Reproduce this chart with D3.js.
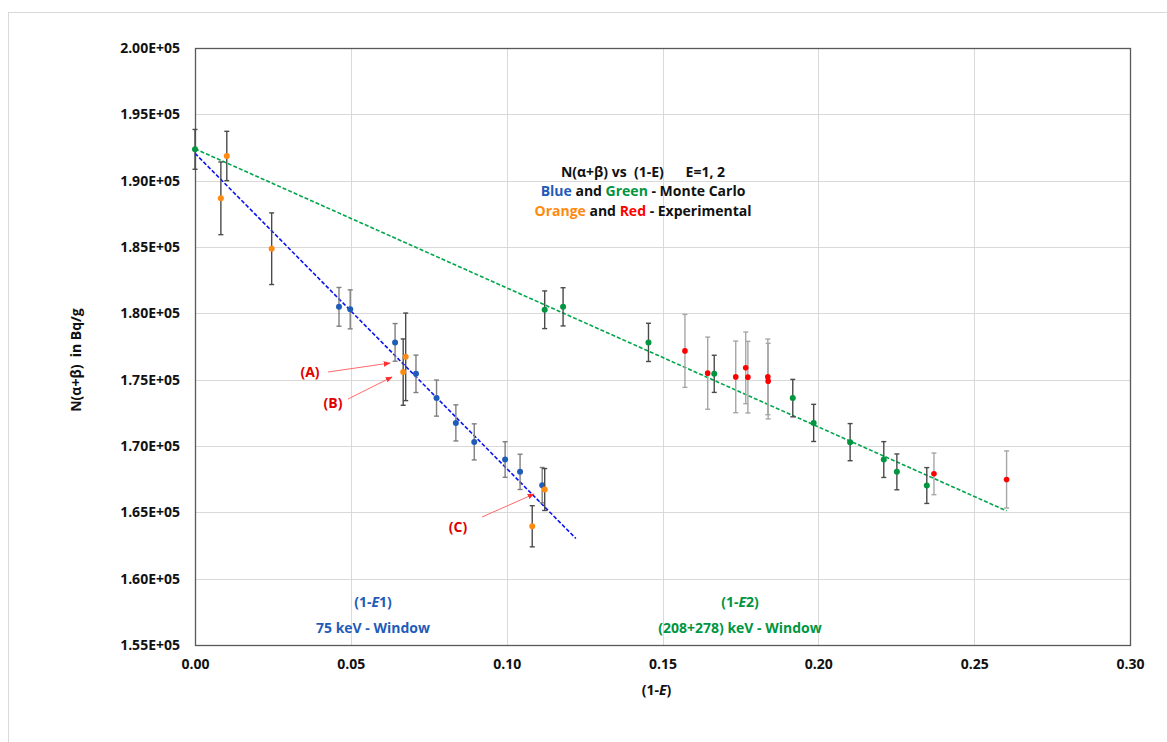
<!DOCTYPE html>
<html>
<head>
<meta charset="utf-8">
<script src="https://cdn.jsdelivr.net/npm/d3@7"></script>
<style>
  body { margin: 0; background: #fff; }
  svg text { font-family: "Open Sans", "Liberation Sans", sans-serif; font-weight: 700; white-space: pre; }
</style>
</head>
<body>
<div id="chart"></div>
<script>
// N(a+b) vs (1-E) — Monte Carlo (blue/green) and experimental (orange/red)

const xTicks = [0, 0.05, 0.10, 0.15, 0.20, 0.25, 0.30];
const yTicks = [155000, 160000, 165000, 170000, 175000, 180000, 185000, 190000, 195000, 200000];

// Monte Carlo, 75 keV window (1-E1)
const blueX   = [0.0462, 0.0498, 0.0642, 0.0709, 0.0775, 0.0837, 0.0896, 0.0995, 0.1043, 0.1114];
const blueY   = [180490, 180300, 177810, 175440, 173610, 171740, 170310, 168980, 168050, 167050];
const blueErr = [1460, 1470, 1420, 1410, 1360, 1360, 1360, 1340, 1330, 1330];

// Monte Carlo, (208+278) keV window (1-E2)
const greenX   = [0, 0.1122, 0.1181, 0.1455, 0.1666, 0.1918, 0.1985, 0.2102, 0.2210, 0.2252, 0.2348];
const greenY   = [192360, 180270, 180490, 177810, 175440, 173610, 171740, 170290, 168980, 168050, 167020];
const greenErr = [1500, 1420, 1440, 1440, 1400, 1410, 1400, 1400, 1350, 1350, 1350];

// Experimental, E1
const orangeX   = [0.0083, 0.0102, 0.0246, 0.0676, 0.0668, 0.1082, 0.1122];
const orangeY   = [188670, 191860, 184870, 176720, 175570, 163950, 166720];
const orangeErr = [2740, 1860, 2700, 3300, 2500, 1550, 1580];

// Experimental, E2
const redX   = [0.1572, 0.1645, 0.1735, 0.1767, 0.1774, 0.1838, 0.1839, 0.2371, 0.2604];
const redY   = [177170, 175490, 175210, 175890, 175190, 175210, 174890, 167900, 167480];
const redErr = [2750, 2720, 2700, 2700, 2700, 2850, 2850, 1570, 2150];

// linear fits (end points)
const blueFitX  = [0, 0.1222];
const blueFitY  = [192060, 163030];
const greenFitX = [0, 0.2604];
const greenFitY = [192400, 165110];

const width = 1167, height = 742;
const margin = { top: 48, right: 37, bottom: 97, left: 195 };
const plot_width  = width - margin.left - margin.right;
const plot_height = height - margin.top - margin.bottom;

const svg = d3.select("#chart").append("svg")
  .attr("width", width).attr("height", height);

// outer frame
svg.append("rect")
  .attr("x", 8.5).attr("y", 12.5)
  .attr("width", width).attr("height", height)
  .attr("fill", "none").attr("stroke", "#d9d9d9");

const plot = svg.append("g")
  .attr("transform", `translate(${margin.left},${margin.top})`);

const x = d3.scaleLinear().domain([0, 0.30]).range([0, plot_width]);
const y = d3.scaleLinear().domain([155000, 200000]).range([plot_height, 0]);

// ── gridlines ──────────────────────────────────────────────
plot.append("g").selectAll("line").data(yTicks).join("line")
  .attr("x1", 0).attr("x2", plot_width)
  .attr("y1", d => Math.round(y(d)) + 0.5).attr("y2", d => Math.round(y(d)) + 0.5)
  .attr("stroke", "#d9d9d9");
plot.append("g").selectAll("line").data(xTicks).join("line")
  .attr("x1", d => Math.round(x(d)) + 0.5).attr("x2", d => Math.round(x(d)) + 0.5)
  .attr("y1", 0).attr("y2", plot_height)
  .attr("stroke", "#d9d9d9");

// ── axes ───────────────────────────────────────────────────
const yAxis = plot.append("g")
  .call(d3.axisLeft(y).tickValues(yTicks).tickSize(0).tickPadding(15)
    .tickFormat(d => (d / 1e5).toFixed(2) + "E+05"));
yAxis.select(".domain").remove();
yAxis.selectAll("text").style("font-size", "14px").attr("fill", "#111");

const xAxis = plot.append("g")
  .attr("transform", `translate(0,${plot_height})`)
  .call(d3.axisBottom(x).tickValues(xTicks).tickSize(0).tickPadding(14)
    .tickFormat(d3.format(".2f")));
xAxis.select(".domain").remove();
xAxis.selectAll("text").style("font-size", "14px").attr("fill", "#111");

// plot border
plot.append("rect")
  .attr("x", 0.5).attr("y", 0.5)
  .attr("width", plot_width).attr("height", plot_height)
  .attr("fill", "none").attr("stroke", "#595959").attr("stroke-width", 1.3);

// axis titles
const xTitle = svg.append("text")
  .attr("x", margin.left + plot_width / 2 - 6).attr("y", 695)
  .attr("text-anchor", "middle").style("font-size", "14px").attr("fill", "#111");
xTitle.append("tspan").text("(1-");
xTitle.append("tspan").style("font-style", "italic").text("E");
xTitle.append("tspan").text(")");

svg.append("text")
  .attr("transform", `translate(81,${margin.top + 312}) rotate(-90)`)
  .attr("text-anchor", "middle").style("font-size", "14px").attr("fill", "#111")
  .text("N(α+β)  in Bq/g");

// ── fit lines ──────────────────────────────────────────────
function fitLine(xs, ys, color) {
  plot.append("path")
    .datum(xs.map((d, i) => [d, ys[i]]))
    .attr("d", d3.line().x(d => x(d[0])).y(d => y(d[1])))
    .attr("fill", "none").attr("stroke", color)
    .attr("stroke-width", 1.6).attr("stroke-dasharray", "4,2");
}
fitLine(blueFitX, blueFitY, "#0a14f0");
fitLine(greenFitX, greenFitY, "#00a64a");

// ── points with error bars ─────────────────────────────────
function series(xs, ys, errs, color, barColor, r) {
  const pts = xs.map((d, i) => ({ x: d, y: ys[i], e: errs[i] }));
  const g = plot.append("g");
  const bars = g.selectAll("g.bar").data(pts).join("g").attr("class", "bar")
    .attr("stroke", barColor).attr("stroke-width", 1.4);
  bars.append("line")
    .attr("x1", d => x(d.x)).attr("x2", d => x(d.x))
    .attr("y1", d => y(d.y - d.e)).attr("y2", d => y(d.y + d.e));
  bars.append("line")
    .attr("x1", d => x(d.x) - 2.5).attr("x2", d => x(d.x) + 2.5)
    .attr("y1", d => y(d.y + d.e)).attr("y2", d => y(d.y + d.e));
  bars.append("line")
    .attr("x1", d => x(d.x) - 2.5).attr("x2", d => x(d.x) + 2.5)
    .attr("y1", d => y(d.y - d.e)).attr("y2", d => y(d.y - d.e));
  g.selectAll("circle").data(pts).join("circle")
    .attr("cx", d => x(d.x)).attr("cy", d => y(d.y))
    .attr("r", r).attr("fill", color);
}
series(blueX, blueY, blueErr, "#1f5cb8", "#7f7f7f", 3);
series(greenX, greenY, greenErr, "#00953f", "#4a4a4a", 3);
series(redX, redY, redErr, "#ff0000", "#a6a6a6", 2.8);
series(orangeX, orangeY, orangeErr, "#ff8a10", "#4a4a4a", 3);

// ── legend text block ──────────────────────────────────────
const info = svg.append("text").attr("text-anchor", "middle").style("font-size", "14px").attr("fill", "#111");
info.append("tspan").attr("x", 643).attr("y", 177).text("N(α+β) vs  (1-E)      E=1, 2");
const l2 = info.append("tspan").attr("x", 643).attr("y", 196);
l2.append("tspan").attr("fill", "#1f5cb8").text("Blue");
l2.append("tspan").text(" and ");
l2.append("tspan").attr("fill", "#00953f").text("Green");
l2.append("tspan").text(" - Monte Carlo");
const l3 = info.append("tspan").attr("x", 643).attr("y", 216);
l3.append("tspan").attr("fill", "#ff8a10").text("Orange");
l3.append("tspan").text(" and ");
l3.append("tspan").attr("fill", "#ff0000").text("Red");
l3.append("tspan").text(" - Experimental");

// window labels
function windowLabel(cx, color, line2) {
  const t = svg.append("text").attr("text-anchor", "middle").style("font-size", "14px").attr("fill", color);
  const a = t.append("tspan").attr("x", cx).attr("y", 607);
  a.append("tspan").text("(1-");
  a.append("tspan").style("font-style", "italic").text("E");
  a.append("tspan").text(line2[0]);
  t.append("tspan").attr("x", cx).attr("y", 633).text(line2[1]);
}
windowLabel(373, "#1f5cb8", ["1)", "75 keV - Window"]);
windowLabel(740, "#00953f", ["2)", "(208+278) keV - Window"]);

// ── annotations (A), (B), (C) ─────────────────────────────
svg.append("defs").append("marker")
  .attr("id", "arrow").attr("viewBox", "0 0 10 10")
  .attr("refX", 9).attr("refY", 5)
  .attr("markerWidth", 7).attr("markerHeight", 7)
  .attr("orient", "auto")
  .append("path").attr("d", "M0,1 L10,5 L0,9 Z").attr("fill", "#ff3030");

const notes = [
  { label: "(A)", tx: 310, ty: 377, x1: 328, y1: 372, x2: 390, y2: 363 },
  { label: "(B)", tx: 333, ty: 408, x1: 348, y1: 399, x2: 392, y2: 377 },
  { label: "(C)", tx: 458, ty: 532, x1: 482, y1: 517, x2: 534, y2: 494 }
];
notes.forEach(n => {
  svg.append("line")
    .attr("x1", n.x1).attr("y1", n.y1).attr("x2", n.x2).attr("y2", n.y2)
    .attr("stroke", "#ff6a6a").attr("stroke-width", 1)
    .attr("marker-end", "url(#arrow)");
  svg.append("text")
    .attr("x", n.tx).attr("y", n.ty).attr("text-anchor", "middle")
    .style("font-size", "14px").attr("fill", "#e00000")
    .text(n.label);
});
</script>
</body>
</html>
